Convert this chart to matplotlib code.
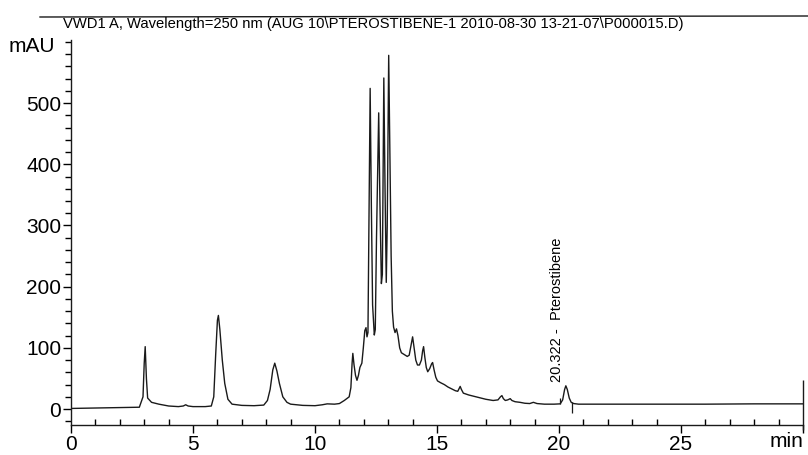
import matplotlib
matplotlib.use('Agg')
import matplotlib.pyplot as plt
from matplotlib.ticker import MultipleLocator

plt.rcParams['font.family'] = ['Liberation Sans', 'DejaVu Sans']

# retention time (min) and signal (mAU)
time = [0.0, 1.5, 2.8, 2.95, 3.0, 3.04, 3.09, 3.14, 3.3, 3.6, 4.0, 4.4, 4.6, 4.7, 4.8, 5.0,
        5.5, 5.75, 5.85, 5.93, 6.0, 6.04, 6.1, 6.2, 6.3, 6.43, 6.6, 7.0, 7.5, 7.9,
        8.05, 8.16, 8.27, 8.35, 8.44, 8.54, 8.68, 8.85, 9.0, 9.5, 10.0, 10.3, 10.5,
        10.8, 11.0, 11.2, 11.4, 11.47, 11.52, 11.55, 11.6, 11.66, 11.72, 11.78, 11.84,
        11.92, 11.98, 12.04, 12.09, 12.13, 12.17, 12.21, 12.26, 12.31, 12.36, 12.43,
        12.47, 12.52, 12.61, 12.66, 12.72, 12.76, 12.82, 12.87, 12.92, 12.96, 13.02,
        13.07, 13.12, 13.17, 13.22, 13.28, 13.34, 13.4, 13.47, 13.54, 13.62, 13.7,
        13.78, 13.86, 13.94, 14.0, 14.06, 14.13, 14.2, 14.28, 14.36, 14.41, 14.45,
        14.5, 14.56, 14.62, 14.7, 14.78, 14.82, 14.88, 14.95, 15.02, 15.15, 15.3,
        15.45, 15.6, 15.75, 15.85, 15.9, 15.95, 16.0, 16.08, 16.3, 16.6, 17.0, 17.3,
        17.5, 17.6, 17.66, 17.72, 17.8, 17.9, 18.0, 18.07, 18.2, 18.4, 18.6, 18.8,
        18.95, 19.1, 19.4, 19.8, 20.05, 20.15, 20.23, 20.28, 20.34, 20.42, 20.5,
        20.6, 20.8, 22.0, 24.0, 26.0, 28.0, 30.0]
signal = [1, 2, 3, 20, 75, 102, 50, 18, 11, 8, 5, 4, 5, 7, 5, 4,
          4, 5, 20, 90, 145, 153, 130, 80, 42, 16, 8, 6, 5.5, 6.5,
          14, 32, 64, 75, 62, 42, 20, 11, 8, 6, 5.5, 7, 8.5,
          8, 9, 14, 20, 35, 75, 91, 72, 55, 47, 55, 68,
          75, 100, 128, 133, 118, 125, 300, 524, 330, 170, 121,
          130, 280, 484, 340, 205, 220, 541, 360, 207, 300, 578,
          420, 250, 160, 134, 125, 131, 120, 100, 92, 90, 88,
          86, 88, 105, 118, 100, 80, 72, 72, 80, 95, 102,
          85, 68, 61, 66, 74, 76, 64, 52, 46, 43, 40,
          36, 33, 30, 29, 33, 37, 32, 26, 23, 20, 16, 14,
          15, 20, 22, 17, 14, 15, 17, 14, 12, 11, 9.5, 9,
          11, 9, 8, 8, 8.5, 15, 32, 38, 32, 18, 11,
          9, 8, 8, 8, 8, 8.5, 8.5]

# integration marks around the labelled peak
mark_t = [20.03, 20.55]
mark_lo = [8, -6]
mark_hi = [18, 12]

peak_rt = '20.322'
peak_name = 'Pterostibene'
title = r'VWD1 A, Wavelength=250 nm (AUG 10\PTEROSTIBENE-1 2010-08-30 13-21-07\P000015.D)'

fig = plt.figure(figsize=(8.08, 4.55), dpi=100)
ax = fig.add_axes([0.0879, 0.066, 0.9059, 0.846])

ax.plot(time, signal, color='#1a1a1a', lw=1.0)
ax.vlines(mark_t, mark_lo, mark_hi, color='#1a1a1a', lw=0.9)

ax.set_xlim(0, 30)
ax.set_ylim(-26, 603)

for s in ['top', 'right']:
    ax.spines[s].set_visible(False)
for s in ['left', 'bottom']:
    ax.spines[s].set_color('#1a1a1a')
    ax.spines[s].set_linewidth(1.0)

ax.set_xticks([0, 5, 10, 15, 20, 25, 30])
ax.set_xticklabels(['0', '5', '10', '15', '20', '25', ''])
ax.xaxis.set_minor_locator(MultipleLocator(1))
ax.set_yticks([0, 100, 200, 300, 400, 500])
ax.yaxis.set_minor_locator(MultipleLocator(20))

ax.tick_params(axis='x', which='major', direction='out', length=6, width=1, pad=1, labelsize=15)
ax.tick_params(axis='x', which='minor', direction='in', length=4, width=1)
ax.tick_params(axis='y', which='major', direction='out', length=6, width=1, pad=1, labelsize=15)
ax.tick_params(axis='y', which='minor', direction='out', length=4, width=1)

# unit labels
ax.text(30, -7 / 385, 'min', transform=ax.get_xaxis_transform(), ha='right', va='top', fontsize=15)
fig.text(55 / 808, 1 - 47 / 455, 'mAU', ha='right', va='center', fontsize=15)

# frame line and title at the top of the print
fig.add_artist(plt.Line2D([40 / 808, 1.0], [1 - 17 / 455, 1 - 16 / 455], color='#1a1a1a', lw=1.0))
fig.text(63 / 808, 1 - 24 / 455, title, ha='left', va='center', fontsize=10.65)

# peak label
ax.text(19.9, 44, peak_rt + ' -  ' + peak_name, rotation=90, ha='center', va='bottom', fontsize=10.5)

# right edge tick of the print
ax.vlines([30], -34, 47, color='#1a1a1a', lw=1.0, clip_on=False)

fig.savefig('out.png', dpi=100, facecolor='white')
